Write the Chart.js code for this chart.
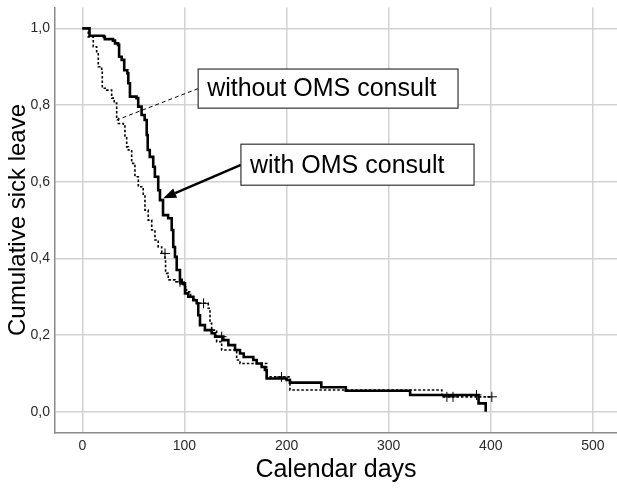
<!DOCTYPE html>
<html>
<head>
<meta charset="utf-8">
<script src="https://cdn.jsdelivr.net/npm/chart.js@4.4.1/dist/chart.umd.min.js"></script>
<style>
  html, body { margin: 0; padding: 0; background: #fff; }
  #grafica { display: block; }
</style>
</head>
<body>
<canvas id="grafica" width="617" height="492"></canvas>
<script>
// Kaplan-Meier curves (day of event, value after the step)
const withDays = [0, 7, 21, 22, 30, 32, 35, 36, 38.5, 41, 44, 45, 46.6, 53, 54.7, 58, 61, 63, 64, 66, 69.4, 71, 74.3, 76, 79, 84, 87.5, 89, 90.7, 92.4, 95.6, 97.3, 100.5, 103.7, 108.6, 112, 113.5, 115.2, 120, 126.6, 130, 138, 143, 149.5, 154.4, 158, 167.4, 170.7, 175.6, 178.8, 180.5, 200, 203.3, 234, 258, 321, 388, 395];
const withSurv = [1.0, 0.981, 0.978, 0.972, 0.968, 0.961, 0.957, 0.926, 0.918, 0.891, 0.883, 0.857, 0.822, 0.818, 0.796, 0.774, 0.761, 0.722, 0.683, 0.665, 0.639, 0.613, 0.578, 0.552, 0.513, 0.505, 0.474, 0.430, 0.404, 0.370, 0.344, 0.335, 0.309, 0.300, 0.291, 0.283, 0.252, 0.226, 0.213, 0.205, 0.196, 0.187, 0.174, 0.161, 0.152, 0.143, 0.135, 0.126, 0.117, 0.109, 0.087, 0.083, 0.076, 0.064, 0.055, 0.044, 0.022, 0.0];

const withoutDays = [0, 5.8, 10.7, 14, 15.6, 18.9, 19.5, 23.8, 28.7, 31.2, 33.6, 35.2, 40.1, 41.7, 43.4, 45, 48.3, 51.5, 54.8, 59.6, 61.3, 64.5, 67.9, 71.1, 74.3, 77.7, 80.9, 81.5, 84.1, 90.7, 95.6, 98.8, 102, 106, 110, 112, 123.3, 125, 126.6, 131.5, 136.4, 151.1, 154.4, 180.5, 203.3, 352, 401];
const withoutSurv = [1.0, 0.978, 0.952, 0.939, 0.900, 0.891, 0.844, 0.839, 0.818, 0.805, 0.765, 0.752, 0.748, 0.717, 0.691, 0.683, 0.648, 0.613, 0.587, 0.565, 0.526, 0.500, 0.474, 0.448, 0.430, 0.413, 0.396, 0.361, 0.344, 0.339, 0.335, 0.326, 0.313, 0.300, 0.287, 0.283, 0.270, 0.231, 0.213, 0.183, 0.161, 0.135, 0.126, 0.091, 0.057, 0.039, 0.039];

// censored cases (+)
const withCensorDays = [136.4, 386];
const withCensorSurv = [0.196, 0.044];
const withoutCensorDays = [80.9, 95.6, 118.7, 195, 357, 363, 401];
const withoutCensorSurv = [0.413, 0.339, 0.283, 0.091, 0.039, 0.039, 0.039];

const xTicks = [0, 100, 200, 300, 400, 500];
const yTicks = [0, 0.2, 0.4, 0.6, 0.8, 1.0];

const labelWith = "with OMS consult";
const labelWithout = "without OMS consult";

const FUENTE = "'Liberation Sans', Arial, sans-serif";
const FUENTE_TICKS = "'Liberation Sans Narrow', 'Arial Narrow', 'Liberation Sans', Arial, sans-serif";

const puntos = (xs, ys) => xs.map((x, i) => ({ x: x, y: ys[i] }));

// === Cajas de texto con línea guía (coordenadas en días / valor) ===
const notas = [
    { text: labelWithout, x0: 113.4, y0: 0.894, x1: 367.9, y1: 0.792, desde: [113.4, 0.843], hasta: [33.6, 0.761], dash: [4, 3], ancho: 1, flecha: false },
    { text: labelWith, x0: 155.3, y0: 0.698, x1: 383.6, y1: 0.591, desde: [155.3, 0.644], hasta: [79.2, 0.557], dash: [], ancho: 2.5, flecha: true }
];

const pluginNotas = {
    id: "notas",
    afterDatasetsDraw(chart) {
        const ctx = chart.ctx;
        const sx = chart.scales.x, sy = chart.scales.y;
        notas.forEach(n => {
            const ax = sx.getPixelForValue(n.desde[0]), ay = sy.getPixelForValue(n.desde[1]);
            const bx = sx.getPixelForValue(n.hasta[0]), by = sy.getPixelForValue(n.hasta[1]);
            ctx.save();
            ctx.strokeStyle = "#000";
            ctx.fillStyle = "#000";
            ctx.lineWidth = n.ancho;
            ctx.setLineDash(n.dash);
            ctx.beginPath();
            if (n.flecha) {
                const ang = Math.atan2(by - ay, bx - ax);
                const largo = 13;
                const ex = bx - Math.cos(ang) * largo, ey = by - Math.sin(ang) * largo;
                ctx.moveTo(ax, ay);
                ctx.lineTo(ex, ey);
                ctx.stroke();
                ctx.setLineDash([]);
                ctx.beginPath();
                ctx.moveTo(bx, by);
                ctx.lineTo(ex + Math.sin(ang) * 5, ey - Math.cos(ang) * 5);
                ctx.lineTo(ex - Math.sin(ang) * 5, ey + Math.cos(ang) * 5);
                ctx.closePath();
                ctx.fill();
            } else {
                ctx.moveTo(ax, ay);
                ctx.lineTo(bx, by);
                ctx.stroke();
            }
            ctx.setLineDash([]);
            const l = sx.getPixelForValue(n.x0), r = sx.getPixelForValue(n.x1);
            const t = sy.getPixelForValue(n.y0), b = sy.getPixelForValue(n.y1);
            ctx.fillStyle = "#fff";
            ctx.fillRect(l, t, r - l, b - t);
            ctx.lineWidth = 1.2;
            ctx.strokeStyle = "#333";
            ctx.strokeRect(l, t, r - l, b - t);
            ctx.fillStyle = "#000";
            ctx.font = "25px " + FUENTE;
            ctx.textAlign = "left";
            ctx.textBaseline = "middle";
            ctx.fillText(n.text, l + 9, (t + b) / 2 + 1);
            ctx.restore();
        });
    }
};

new Chart(document.getElementById("grafica"), {
    type: "scatter",
    data: {
        datasets: [
            {
                label: labelWith,
                data: puntos(withDays, withSurv),
                showLine: true,
                stepped: "before",
                borderColor: "#000",
                borderWidth: 2.6,
                pointRadius: 0
            },
            {
                label: labelWithout,
                data: puntos(withoutDays, withoutSurv),
                showLine: true,
                stepped: "before",
                borderColor: "#000",
                borderWidth: 1.6,
                borderDash: [2.5, 2],
                pointRadius: 0
            },
            {
                label: labelWith + " censored",
                data: puntos(withCensorDays, withCensorSurv),
                pointStyle: "cross",
                pointRadius: 5,
                borderColor: "#000",
                borderWidth: 1
            },
            {
                label: labelWithout + " censored",
                data: puntos(withoutCensorDays, withoutCensorSurv),
                pointStyle: "cross",
                pointRadius: 5,
                borderColor: "#000",
                borderWidth: 1
            }
        ]
    },
    options: {
        responsive: false,
        animation: false,
        devicePixelRatio: 1,
        layout: { autoPadding: false, padding: { top: 7.5, right: 0, left: 0, bottom: 0 } },
        plugins: {
            legend: { display: false },
            tooltip: { enabled: false }
        },
        scales: {
            x: {
                type: "linear",
                min: -26.8,
                max: 523.6,
                afterBuildTicks: s => { s.ticks = xTicks.map(v => ({ value: v })); },
                afterFit: s => { s.height = 59.5; s.paddingLeft = 0; s.paddingRight = 0; },
                grid: { color: "#d2d2d2", lineWidth: 1.5, drawTicks: false },
                border: { color: "#8a8a8a", width: 1.5 },
                ticks: {
                    padding: 5,
                    color: "#2a2a2a",
                    font: { family: FUENTE_TICKS, size: 14 },
                    callback: v => String(v)
                },
                title: {
                    display: true,
                    text: "Calendar days",
                    color: "#000",
                    font: { family: FUENTE, size: 25 },
                    padding: { top: 0, bottom: 7 }
                }
            },
            y: {
                type: "linear",
                min: -0.054,
                max: 1.0545,
                afterBuildTicks: s => { s.ticks = yTicks.map(v => ({ value: v })); },
                afterFit: s => { s.width = 55; s.paddingTop = 0; s.paddingBottom = 0; },
                grid: { color: "#d2d2d2", lineWidth: 1.5, drawTicks: false },
                border: { color: "#8a8a8a", width: 1.5 },
                ticks: {
                    padding: 5,
                    color: "#2a2a2a",
                    font: { family: FUENTE_TICKS, size: 14 },
                    callback: v => v.toFixed(1).replace(".", ",")
                },
                title: {
                    display: true,
                    text: "Cumulative sick leave",
                    color: "#000",
                    font: { family: FUENTE, size: 24 },
                    padding: { top: 4, bottom: 0 }
                }
            }
        }
    },
    plugins: [pluginNotas]
});
</script>
</body>
</html>
